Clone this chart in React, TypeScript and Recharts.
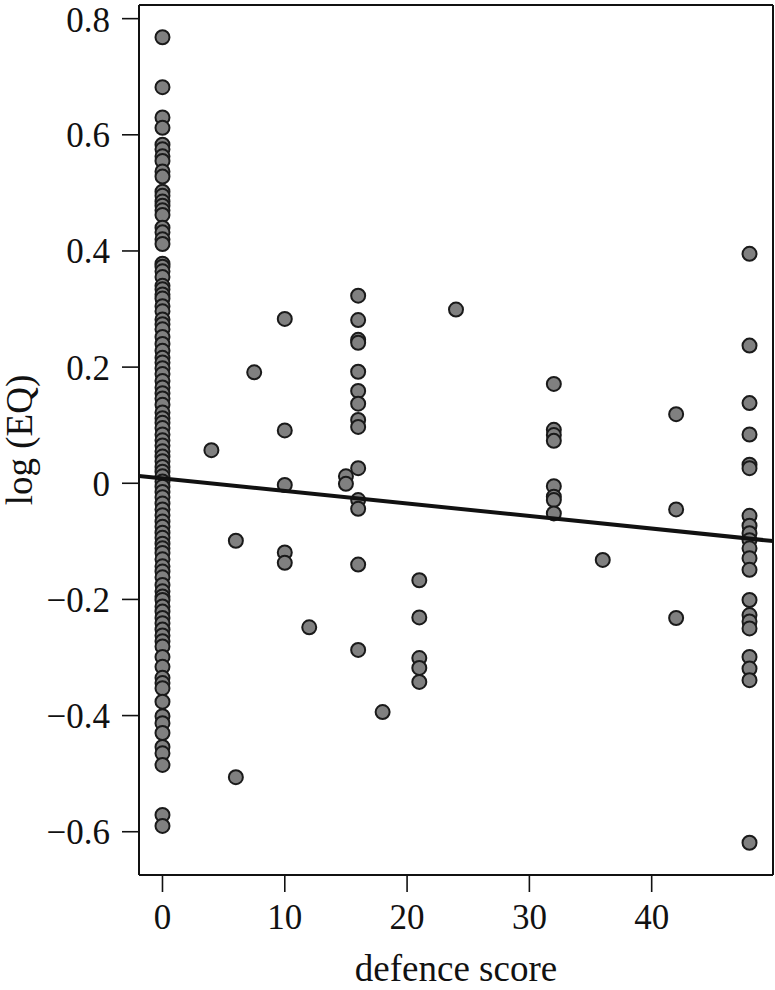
import React from 'react';
import { ScatterChart, Scatter, XAxis, YAxis, ReferenceLine, Label } from 'recharts';

const xTicks = [0, 10, 20, 30, 40];
const yTicks = [-0.6, -0.4, -0.2, 0, 0.2, 0.4, 0.6, 0.8];
const xDomain: [number, number] = [-1.92, 49.92];
const yDomain: [number, number] = [-0.6745, 0.8235];

const eqAt0 = [
  0.768, 0.682, 0.630, 0.612, 0.583, 0.575, 0.563, 0.555, 0.537, 0.528, 0.502, 0.495,
  0.485, 0.478, 0.470, 0.462, 0.440, 0.432, 0.420, 0.412, 0.378, 0.373, 0.365, 0.355,
  0.340, 0.334, 0.325, 0.318, 0.305, 0.296, 0.282, 0.274, 0.265, 0.252, 0.240, 0.228,
  0.216, 0.208, 0.198, 0.188, 0.176, 0.165, 0.155, 0.146, 0.135, 0.122, 0.112, 0.104,
  0.095, 0.084, 0.074, 0.065, 0.055, 0.046, 0.038, 0.028, 0.020, 0.012, 0.003, -0.006,
  -0.015, -0.024, -0.035, -0.045, -0.055, -0.066, -0.075, -0.085, -0.094, -0.104, -0.112,
  -0.120, -0.131, -0.143, -0.152, -0.162, -0.175, -0.186, -0.195, -0.201, -0.212, -0.221,
  -0.232, -0.241, -0.252, -0.262, -0.272, -0.281, -0.299, -0.316, -0.335, -0.344, -0.353,
  -0.376, -0.401, -0.413, -0.430, -0.454, -0.465, -0.485, -0.571, -0.590,
];
const eqAt4 = [0.057];
const eqAt6 = [-0.099, -0.506];
const eqAt7_5 = [0.191];
const eqAt10 = [0.283, 0.091, -0.003, -0.119, -0.137];
const eqAt12 = [-0.248];
const eqAt15 = [0.012, -0.001];
const eqAt16 = [0.323, 0.281, 0.247, 0.242, 0.192, 0.159, 0.137, 0.109, 0.097, 0.026, -0.029, -0.044, -0.140, -0.287];
const eqAt18 = [-0.394];
const eqAt21 = [-0.167, -0.231, -0.301, -0.318, -0.342];
const eqAt24 = [0.299];
const eqAt32 = [0.171, 0.092, 0.083, 0.073, -0.005, -0.023, -0.029, -0.052];
const eqAt36 = [-0.132];
const eqAt42 = [0.119, -0.045, -0.232];
const eqAt48 = [0.395, 0.237, 0.138, 0.084, 0.032, 0.026, -0.056, -0.073, -0.086, -0.098, -0.112, -0.129, -0.149, -0.201, -0.227, -0.238, -0.250, -0.299, -0.319, -0.339, -0.619];

const scores = [0, 4, 6, 7.5, 10, 12, 15, 16, 18, 21, 24, 32, 36, 42, 48];
const groups = [eqAt0, eqAt4, eqAt6, eqAt7_5, eqAt10, eqAt12, eqAt15, eqAt16, eqAt18, eqAt21, eqAt24, eqAt32, eqAt36, eqAt42, eqAt48];

const fitX = [-1.92, 49.92];
const fitY = [0.0126, -0.0995];

const points = scores.flatMap((s, i) => groups[i].map((v) => ({ x: s, y: v })));
const fitLine = fitX.map((x, i) => ({ x, y: fitY[i] }));

const FONT = '"Liberation Serif", "DejaVu Serif", "Times New Roman", serif';
const INK = '#111111';

const fmtX = (v: number) => String(Math.round(v));
const fmtY = (v: number) => (v === 0 ? '0' : (Math.round(v * 10) / 10).toFixed(1).replace('-', '\u2212'));

const Dot = (props: any) => {
  const { cx, cy } = props;
  if (cx == null || cy == null) return null;
  return <circle cx={cx} cy={cy} r={7} fill="#808080" stroke="#1a1a1a" strokeWidth={2} />;
};

const NoDot = () => null;

export default function App() {
  return (
    <div style={{ position: 'absolute', left: 0, top: 0, width: 775, height: 990, background: '#fff' }}>
      <ScatterChart width={775} height={990} margin={{ top: 5, right: 2, bottom: 0, left: 0 }}>
        <XAxis
          type="number"
          dataKey="x"
          domain={xDomain}
          allowDataOverflow
          ticks={xTicks}
          tickFormatter={fmtX}
          height={115}
          tickSize={17}
          tickMargin={12}
          axisLine={{ stroke: INK, strokeWidth: 2 }}
          tickLine={{ stroke: INK, strokeWidth: 1.6 }}
          tick={{ fill: INK, fontSize: 35, fontFamily: FONT }}
        >
          <Label
            content={(p: any) => {
              const vb = p.viewBox;
              return (
                <text x={vb.x + vb.width / 2} y={vb.y + 106} textAnchor="middle" fill={INK} fontSize={37} fontFamily={FONT}>
                  defence score
                </text>
              );
            }}
          />
        </XAxis>
        <YAxis
          type="number"
          dataKey="y"
          domain={yDomain}
          allowDataOverflow
          ticks={yTicks}
          tickFormatter={fmtY}
          width={139}
          tickSize={17}
          tickMargin={12}
          axisLine={{ stroke: INK, strokeWidth: 2 }}
          tickLine={{ stroke: INK, strokeWidth: 1.6 }}
          tick={{ fill: INK, fontSize: 35, fontFamily: FONT }}
        >
          <Label
            content={(p: any) => {
              const vb = p.viewBox;
              const cy = vb.y + vb.height / 2;
              const cx = 32;
              return (
                <text x={cx} y={cy} textAnchor="middle" fill={INK} fontSize={37} fontFamily={FONT} transform={`rotate(-90, ${cx}, ${cy})`}>
                  log (EQ)
                </text>
              );
            }}
          />
        </YAxis>
        <ReferenceLine y={yDomain[1]} stroke={INK} strokeWidth={2} />
        <ReferenceLine x={xDomain[1]} stroke={INK} strokeWidth={2} />
        <Scatter data={points} shape={Dot} isAnimationActive={false} />
        <Scatter data={fitLine} shape={NoDot} line={{ stroke: INK, strokeWidth: 4 }} isAnimationActive={false} />
      </ScatterChart>
    </div>
  );
}
